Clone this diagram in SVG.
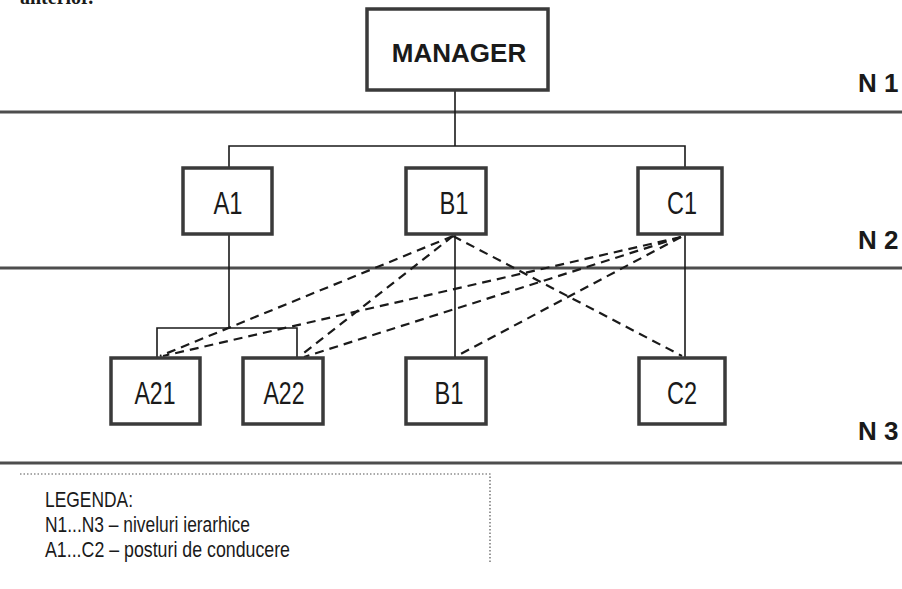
<svg xmlns="http://www.w3.org/2000/svg" width="902" height="589" viewBox="0 0 902 589">
  <style>
    .box { fill: #ffffff; stroke: #3a3a3a; stroke-width: 3.5; }
    .level { stroke: #4d4d4d; stroke-width: 3; }
    .link { fill: none; stroke: #1a1a1a; stroke-width: 1.6; }
    .dash { fill: none; stroke: #1a1a1a; stroke-width: 2.2; stroke-dasharray: 9 6; }
    .lbl { font-family: "Liberation Sans", Arial, sans-serif; font-size: 31px; fill: #1a1a1a; text-anchor: middle; }
    .bold { font-family: "Liberation Sans", Arial, sans-serif; font-weight: bold; fill: #1a1a1a; }
    .lvl { font-size: 26px; }
    .leg { font-family: "Liberation Sans", Arial, sans-serif; font-size: 22px; fill: #1a1a1a; }
    .dot { fill: none; stroke: #555; stroke-width: 1.2; stroke-dasharray: 1.5 2; }
  </style>

  <!-- preceding paragraph, cut at the top edge -->
  <text x="20" y="4" font-family="Liberation Serif, serif" font-weight="bold" font-size="20" fill="#1a1a1a">anterior.</text>

  <!-- hierarchy level separators -->
  <g id="levels">
    <line class="level" x1="0" y1="112" x2="902" y2="112"/>
    <line class="level" x1="0" y1="268" x2="902" y2="268"/>
    <line class="level" x1="0" y1="463" x2="902" y2="463"/>
    <text class="bold lvl" x="858" y="92">N 1</text>
    <text class="bold lvl" x="858" y="249">N 2</text>
    <text class="bold lvl" x="858" y="440">N 3</text>
  </g>

  <!-- connectors -->
  <g id="connectors">
    <!-- solid subordination lines -->
    <path class="link" d="M455 90 V146 M229 168 V146 H685 V168"/>
    <path class="link" d="M229 234 V328 M157 358 V328 H297 V358"/>
    <path class="link" d="M455 234 V358"/>
    <path class="link" d="M685 234 V358"/>
    <!-- dashed cooperation lines -->
    <line class="dash" x1="453" y1="236" x2="160" y2="356"/>
    <line class="dash" x1="453" y1="236" x2="300" y2="356"/>
    <line class="dash" x1="453" y1="236" x2="682" y2="356"/>
    <line class="dash" x1="681" y1="237" x2="163" y2="356"/>
    <line class="dash" x1="681" y1="237" x2="304" y2="357"/>
    <line class="dash" x1="681" y1="237" x2="455" y2="357"/>
  </g>

  <g id="manager">
    <rect class="box" x="367" y="9" width="181" height="81"/>
    <text class="bold" x="459" y="62" font-size="26" text-anchor="middle">MANAGER</text>
  </g>

  <g id="a1">
    <rect class="box" x="183" y="168" width="89" height="66"/>
    <text class="lbl" x="228" y="214" textLength="29" lengthAdjust="spacingAndGlyphs">A1</text>
  </g>
  <g id="b1">
    <rect class="box" x="406" y="168" width="80" height="66"/>
    <text class="lbl" x="454" y="214" textLength="29" lengthAdjust="spacingAndGlyphs">B1</text>
  </g>
  <g id="c1">
    <rect class="box" x="638" y="168" width="84" height="66"/>
    <text class="lbl" x="682" y="214" textLength="30" lengthAdjust="spacingAndGlyphs">C1</text>
  </g>

  <g id="a21">
    <rect class="box" x="111" y="358" width="89" height="66"/>
    <text class="lbl" x="155" y="404" textLength="41" lengthAdjust="spacingAndGlyphs">A21</text>
  </g>
  <g id="a22">
    <rect class="box" x="243" y="358" width="80" height="66"/>
    <text class="lbl" x="284" y="404" textLength="41" lengthAdjust="spacingAndGlyphs">A22</text>
  </g>
  <g id="b1-lower">
    <rect class="box" x="406" y="358" width="80" height="66"/>
    <text class="lbl" x="449" y="404" textLength="29" lengthAdjust="spacingAndGlyphs">B1</text>
  </g>
  <g id="c2">
    <rect class="box" x="639" y="358" width="86" height="66"/>
    <text class="lbl" x="682" y="404" textLength="30" lengthAdjust="spacingAndGlyphs">C2</text>
  </g>

  <!-- legend -->
  <g id="legend">
    <path class="dot" d="M20 474 H490 V562"/>
    <text class="leg" x="45" y="507" textLength="88" lengthAdjust="spacingAndGlyphs">LEGENDA:</text>
    <text class="leg" x="45" y="532" textLength="205" lengthAdjust="spacingAndGlyphs">N1...N3 – niveluri ierarhice</text>
    <text class="leg" x="45" y="557" textLength="245" lengthAdjust="spacingAndGlyphs">A1...C2 – posturi de conducere</text>
  </g>
</svg>
